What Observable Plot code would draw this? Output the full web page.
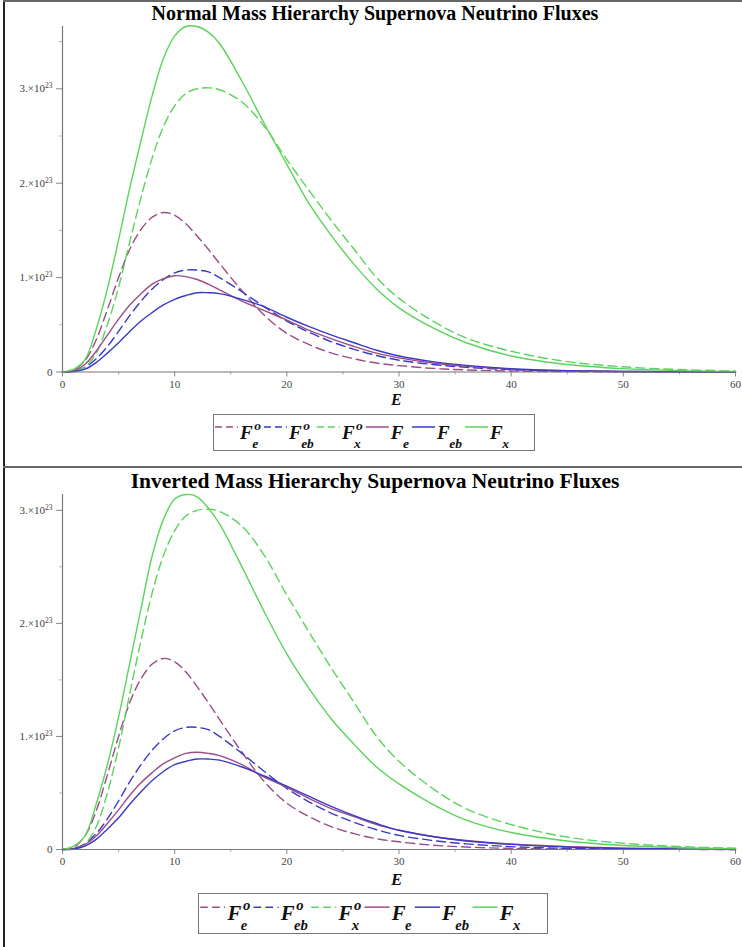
<!DOCTYPE html>
<html>
<head>
<meta charset="utf-8">
<script src="https://cdn.jsdelivr.net/npm/d3@7"></script>
<script src="https://cdn.jsdelivr.net/npm/@observablehq/plot@0.6"></script>
<style>
  body { margin: 0; background: #fff; }
  #page { position: relative; width: 742px; height: 947px; overflow: hidden; background: #fff; font-family: "Liberation Serif", "Times New Roman", serif; }
  .edge-left { position: absolute; left: 3px; top: 0; width: 2px; height: 947px; background: #222; }
  .edge-top { position: absolute; left: 3px; top: 0; width: 739px; height: 2px; background: #666; }
  .sep { position: absolute; left: 3px; top: 466px; width: 739px; height: 2px; background: #666; }
  .title { position: absolute; left: 0; width: 742px; text-align: center; font-weight: bold; color: #000; white-space: nowrap; }
  .xlabel { position: absolute; font-weight: bold; font-style: italic; color: #111; }
  .panel { position: absolute; left: 0; }
  .panel text { font-family: "Liberation Serif", "Times New Roman", serif; }
  .legend { position: absolute; }
</style>
</head>
<body>
<div id="page">
  <div class="edge-left"></div>
  <div class="edge-top"></div>
  <div class="sep"></div>
</div>
<script>
// Energy grid (MeV) and fluxes in units of 1e23
const UNIT = 1e23;
const energy = [0,1,2,3,4,5,6,7,8,9,10,11,12,13,14,16,18,20,22,24,26,28,30,33,36,40,45,50,55,60];

// Unoscillated fluxes (same in both hierarchies)
const fluxE0  = [0,0.02,0.12,0.34,0.66,1.0,1.3,1.51,1.64,1.69,1.66,1.57,1.44,1.3,1.15,0.86,0.6,0.41,0.29,0.2,0.14,0.095,0.068,0.038,0.022,0.01,0.004,0.002,0.001,0];
const fluxEb0 = [0,0.01,0.05,0.14,0.27,0.43,0.6,0.75,0.88,0.98,1.05,1.08,1.08,1.06,1.0,0.85,0.69,0.54,0.42,0.32,0.24,0.175,0.125,0.08,0.05,0.025,0.01,0.004,0.0015,0.0005];
const fluxX0  = [0,0.01,0.05,0.2,0.5,0.9,1.38,1.85,2.27,2.6,2.82,2.95,3.0,3.01,2.99,2.86,2.6,2.25,1.92,1.6,1.3,1.0,0.78,0.54,0.36,0.22,0.11,0.055,0.026,0.011];

// Normal mass hierarchy, after oscillation
const normalE  = [0,0.015,0.08,0.22,0.39,0.56,0.71,0.83,0.93,0.99,1.02,1.01,0.98,0.93,0.87,0.75,0.65,0.55,0.44,0.35,0.27,0.2,0.15,0.095,0.06,0.03,0.013,0.005,0.002,0.001];
const normalEb = [0,0.005,0.03,0.1,0.2,0.31,0.43,0.54,0.63,0.71,0.77,0.81,0.84,0.84,0.83,0.77,0.69,0.58,0.48,0.39,0.31,0.23,0.17,0.11,0.07,0.035,0.015,0.006,0.003,0.001];
const normalX  = [0,0.03,0.13,0.45,0.88,1.4,1.95,2.45,2.93,3.32,3.56,3.66,3.66,3.6,3.48,3.08,2.63,2.2,1.78,1.44,1.14,0.88,0.68,0.47,0.31,0.17,0.08,0.036,0.015,0.006];

// Inverted mass hierarchy, after oscillation
const invertedE  = [0,0.01,0.045,0.12,0.23,0.35,0.48,0.59,0.68,0.76,0.81,0.85,0.86,0.85,0.83,0.75,0.64,0.55,0.45,0.36,0.29,0.22,0.17,0.115,0.08,0.048,0.025,0.011,0.005,0.002];
const invertedEb = [0,0.005,0.03,0.09,0.18,0.28,0.4,0.51,0.61,0.69,0.75,0.78,0.8,0.8,0.79,0.73,0.65,0.56,0.47,0.38,0.3,0.23,0.17,0.115,0.075,0.045,0.022,0.01,0.004,0.002];
const invertedX  = [0,0.03,0.12,0.4,0.75,1.17,1.65,2.13,2.6,2.92,3.1,3.14,3.12,3.02,2.88,2.5,2.1,1.73,1.42,1.15,0.93,0.73,0.58,0.4,0.26,0.15,0.075,0.035,0.016,0.006];

// Series order, legend symbols
const seriesKeys = ["Fe0", "Feb0", "Fx0", "Fe", "Feb", "Fx"];
const seriesSup  = ["o", "o", "o", "", "", ""];
const seriesSub  = ["e", "eb", "x", "e", "eb", "x"];

// Tick values
const xMajor = [0, 10, 20, 30, 40, 50, 60];
const xMinor = [5, 15, 25, 35, 45, 55];
const yMajor = [0, 1, 2, 3];
const yMinor = [0.5, 1.5, 2.5, 3.5];

const titles = ["Normal Mass Hierarchy Supernova Neutrino Fluxes", "Inverted Mass Hierarchy Supernova Neutrino Fluxes"];

// Styling
const PURPLE = "#9b4d86", BLUE = "#3a3ac6", GREEN = "#5cd35c";
const seriesColor = { Fe0: PURPLE, Feb0: BLUE, Fx0: GREEN, Fe: PURPLE, Feb: BLUE, Fx: GREEN };
const seriesDash  = { Fe0: "9,5", Feb0: "9,5", Fx0: "9,5", Fe: null, Feb: null, Fx: null };
const SERIF = "'Liberation Serif', 'Times New Roman', serif";

const page = document.getElementById("page");
const ns = "http://www.w3.org/2000/svg";

function buildRows(fe, feb, fx) {
  return energy.map((e, i) => ({
    E: e,
    Fe0: fluxE0[i] * UNIT, Feb0: fluxEb0[i] * UNIT, Fx0: fluxX0[i] * UNIT,
    Fe: fe[i] * UNIT, Feb: feb[i] * UNIT, Fx: fx[i] * UNIT
  }));
}

// y tick labels written as "n.×10" with a raised exponent
function styleYLabels(chart) {
  chart.querySelectorAll('g[aria-label="y-axis tick label"] text').forEach(t => {
    const s = t.textContent;
    if (!s.endsWith("|")) return;
    const mant = s.slice(0, -1);
    t.textContent = "";
    const a = document.createElementNS(ns, "tspan");
    a.textContent = mant + ".×10";
    const b = document.createElementNS(ns, "tspan");
    b.textContent = "23";
    b.setAttribute("font-size", "7.5");
    b.setAttribute("dy", "-4");
    t.appendChild(a); t.appendChild(b);
  });
}

function drawPanel(cfg) {
  const rows = buildRows(cfg.fe, cfg.feb, cfg.fx);
  const yMax = d3.max(rows, d => Math.max(d.Fx, d.Fx0));
  const lines = seriesKeys.map(k => Plot.line(rows, {
    x: "E", y: k, stroke: seriesColor[k], strokeWidth: 1.4,
    strokeDasharray: seriesDash[k] ?? undefined, curve: "catmull-rom"
  }));
  const chart = Plot.plot({
    width: 742,
    height: cfg.height,
    marginLeft: 62, marginRight: 7, marginTop: cfg.marginTop, marginBottom: cfg.marginBottom,
    x: { domain: [0, 60] },
    y: { domain: [0, yMax] },
    style: { fontFamily: SERIF, fontSize: "11px", color: "#444", background: "transparent", overflow: "visible" },
    marks: [
      Plot.axisX({ ticks: xMajor, tickSize: 5, tickPadding: 3, stroke: "#888", fill: "#444", fontFamily: SERIF, fontSize: 11, label: null }),
      Plot.axisX({ ticks: xMinor, tickSize: 3, tickFormat: () => "", stroke: "#aaa", label: null }),
      Plot.axisY({ ticks: yMajor.map(v => v * UNIT), tickSize: 6, tickPadding: 4, stroke: "#888", fill: "#444", fontFamily: SERIF, fontSize: 11,
        tickFormat: d => { const n = Math.round(d / UNIT); return n === 0 ? "0" : `${n}|`; }, label: null }),
      Plot.axisY({ ticks: yMinor.map(v => v * UNIT).filter(v => v <= yMax), tickSize: 3, tickFormat: () => "", stroke: "#bbb", label: null }),
      ...lines,
      Plot.ruleY([0], { stroke: "#777", strokeWidth: 1.2 }),
      Plot.ruleX([0], { stroke: "#777", strokeWidth: 1.2 })
    ]
  });
  styleYLabels(chart);
  chart.classList.add("panel");
  chart.style.top = cfg.top + "px";
  page.appendChild(chart);

  const t = document.createElement("div");
  t.className = "title";
  t.textContent = cfg.title;
  t.style.top = cfg.titleTop + "px";
  t.style.fontSize = cfg.titleSize + "px";
  t.style.left = cfg.titleShift + "px";
  page.appendChild(t);

  const xl = document.createElement("div");
  xl.className = "xlabel";
  xl.textContent = "E";
  xl.style.fontSize = cfg.xlabelSize + "px";
  xl.style.left = "391px";
  xl.style.top = cfg.xlabelTop + "px";
  page.appendChild(xl);

  drawLegend(cfg.legend);
}

function drawLegend({ left, top, width, height, scale }) {
  const svg = document.createElementNS(ns, "svg");
  svg.setAttribute("width", width);
  svg.setAttribute("height", height);
  svg.setAttribute("class", "legend");
  svg.style.left = left + "px";
  svg.style.top = top + "px";
  page.appendChild(svg);
  const rect = document.createElementNS(ns, "rect");
  rect.setAttribute("x", 0.5); rect.setAttribute("y", 0.5);
  rect.setAttribute("width", width - 1); rect.setAttribute("height", height - 1);
  rect.setAttribute("fill", "#fff"); rect.setAttribute("stroke", "#777");
  svg.appendChild(rect);
  const bigSize = 19 * scale, smallSize = 13.5 * scale;
  const lineY = 13 * scale, baseF = 25 * scale, baseSup = 16 * scale, baseSub = 33.5 * scale;
  let x = 2 * scale;
  seriesKeys.forEach((k, i) => {
    const ln = document.createElementNS(ns, "line");
    ln.setAttribute("x1", x); ln.setAttribute("x2", x + 23 * scale);
    ln.setAttribute("y1", lineY); ln.setAttribute("y2", lineY);
    ln.setAttribute("stroke", seriesColor[k]); ln.setAttribute("stroke-width", 1.5);
    if (seriesDash[k]) ln.setAttribute("stroke-dasharray", `${7 * scale},${4 * scale}`);
    svg.appendChild(ln);
    x += 25 * scale;
    const mk = (str, size, xx, yy) => {
      const tx = document.createElementNS(ns, "text");
      tx.setAttribute("x", xx); tx.setAttribute("y", yy);
      tx.setAttribute("font-family", SERIF); tx.setAttribute("font-size", size);
      tx.setAttribute("font-weight", "bold"); tx.setAttribute("font-style", "italic");
      tx.setAttribute("fill", "#111");
      tx.textContent = str;
      svg.appendChild(tx);
      return tx.getComputedTextLength();
    };
    const wF = mk("F", bigSize, x, baseF);
    x += wF + 0.5 * scale;
    let wSup = 0;
    if (seriesSup[i]) wSup = mk(seriesSup[i], smallSize, x + 1 * scale, baseSup);
    const wSub = mk(seriesSub[i], smallSize, x - 1 * scale, baseSub);
    x += Math.max(wSup + 1 * scale, wSub - 1 * scale) + 3 * scale;
  });
}

drawPanel({
  top: 0, height: 400, marginTop: 26, marginBottom: 28.5,
  fe: normalE, feb: normalEb, fx: normalX,
  title: titles[0], titleTop: 2, titleSize: 20, titleShift: 4,
  xlabelTop: 391, xlabelSize: 16,
  legend: { left: 213, top: 414, width: 322, height: 37, scale: 1 }
});

drawPanel({
  top: 467, height: 410, marginTop: 27, marginBottom: 28,
  fe: invertedE, feb: invertedEb, fx: invertedX,
  title: titles[1], titleTop: 469, titleSize: 21.5, titleShift: 4,
  xlabelTop: 870, xlabelSize: 17,
  legend: { left: 198, top: 893, width: 350, height: 41, scale: 1.09 }
});
</script>
</body>
</html>
